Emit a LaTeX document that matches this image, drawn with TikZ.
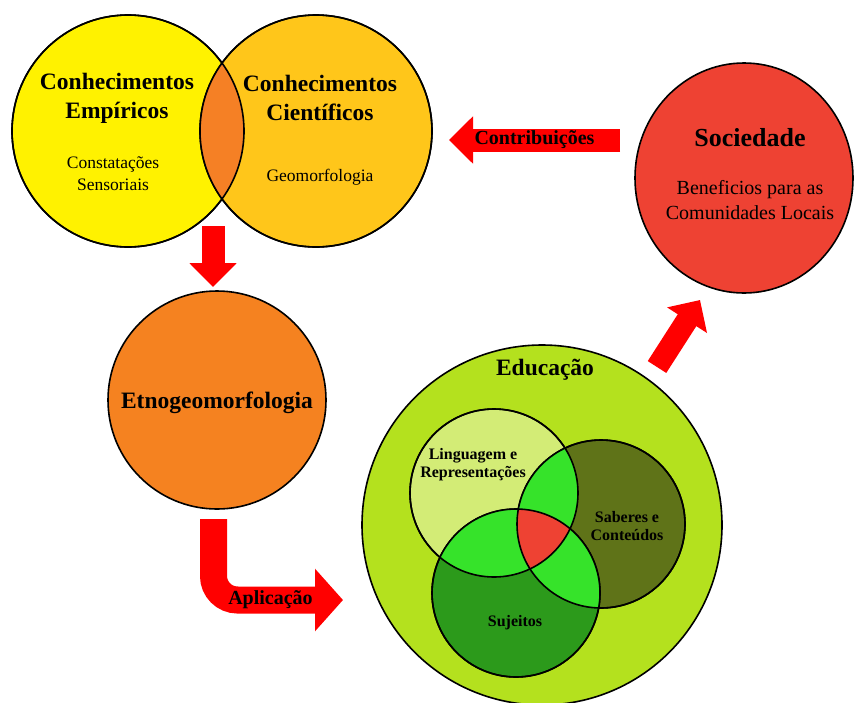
\documentclass[tikz,border=0pt]{standalone}
\usepackage{fontspec}
\setmainfont{Liberation Serif}
\usetikzlibrary{arrows.meta}

\definecolor{empyellow}{HTML}{FFF200}
\definecolor{cieamber}{HTML}{FFC61A}
\definecolor{lensorange}{HTML}{F58025}
\definecolor{etnoorange}{HTML}{F58220}
\definecolor{socred}{HTML}{EE4233}
\definecolor{edugreen}{HTML}{B4E11E}
\definecolor{linglight}{HTML}{D3EC76}
\definecolor{sabolive}{HTML}{5F7318}
\definecolor{sujgreen}{HTML}{2C9A1B}
\definecolor{mixgreen}{HTML}{36E32A}
\definecolor{arrowred}{HTML}{FF0000}

\begin{document}
\begin{tikzpicture}[x=1pt, y=-1pt,
    ring/.style={circle, draw=black, line width=1.6pt, inner sep=0pt},
    outline/.style={draw=black, line width=1.6pt},
    title/.style={font=\bfseries\fontsize{23.5}{29}\selectfont, align=center},
    sub/.style={font=\fontsize{17.5}{22}\selectfont, align=center},
    small/.style={font=\bfseries\fontsize{16}{18}\selectfont, align=center},
    arrowtxt/.style={font=\bfseries\fontsize{20}{24}\selectfont, text=black},
    bigarrow/.style={draw=arrowred, line width=23pt, -{Triangle[length=24pt, width=46pt]}},
    bentarrow/.style={draw=arrowred, line width=27pt, rounded corners=24pt,
      -{Triangle[length=28pt, width=61pt]}},
  ]
  \useasboundingbox[fill=white] (0,0) rectangle (854,702);

  % conhecimentos: two overlapping circles
  \node[ring, fill=empyellow, minimum size=232pt] (emp) at (128,131) {};
  \node[ring, fill=cieamber, minimum size=232pt] (cie) at (316,131) {};
  \begin{scope}
    \clip (emp.center) circle (116pt);
    \fill[lensorange] (cie.center) circle (116pt);
  \end{scope}
  \draw[outline] (emp.center) circle (116pt);
  \draw[outline] (cie.center) circle (116pt);

  \node[title] (empTitle) at (117,98) {Conhecimentos\\Empíricos};
  \node[sub] (empSub) at (113,174) {Constatações\\Sensoriais};
  \node[title] (cieTitle) at (320,98) {Conhecimentos\\Científicos};
  \node[sub] (cieSub) at (320,177) {Geomorfologia};

  % etnogeomorfologia
  \node[ring, fill=etnoorange, minimum size=218pt] (etno) at (217,400) {};
  \node[title] (etnoTxt) at (217,403) {Etnogeomorfologia};

  % sociedade
  \draw[outline, fill=socred] (744,178) ellipse (109pt and 115pt);
  \coordinate (soc) at (744,178);
  \node[font=\bfseries\fontsize{26}{30}\selectfont] (socTitle) at (750,138) {Sociedade};
  \node[font=\fontsize{20}{25}\selectfont, align=center] (socSub) at (750,200)
    {Beneficios para as\\Comunidades Locais};

  % educação with its three sets
  \node[ring, fill=edugreen, minimum size=360pt] (edu) at (542,525) {};
  \node[ring, fill=linglight, minimum size=168pt] (ling) at (494,493) {};
  \node[ring, fill=sabolive, minimum size=168pt] (sab) at (601,524) {};
  \node[ring, fill=sujgreen, minimum size=168pt] (suj) at (516,593) {};
  \begin{scope}
    \clip (ling.center) circle (84pt);
    \fill[mixgreen] (sab.center) circle (84pt);
    \fill[mixgreen] (suj.center) circle (84pt);
  \end{scope}
  \begin{scope}
    \clip (sab.center) circle (84pt);
    \fill[mixgreen] (suj.center) circle (84pt);
  \end{scope}
  \begin{scope}
    \clip (ling.center) circle (84pt);
    \clip (sab.center) circle (84pt);
    \fill[socred] (suj.center) circle (84pt);
  \end{scope}
  \draw[outline] (ling.center) circle (84pt);
  \draw[outline] (sab.center) circle (84pt);
  \draw[outline] (suj.center) circle (84pt);

  \node[title] (eduTxt) at (545,370) {Educação};
  \node[small] (lingTxt) at (473,465) {Linguagem e\\Representações};
  \node[small] (sabTxt) at (627,526) {Saberes e\\Conteúdos};
  \node[small] (sujTxt) at (515,623) {Sujeitos};

  % arrows
  \coordinate (dn-a) at (213,226);
  \coordinate (dn-b) at (213,287);
  \draw[bigarrow] (dn-a) -- (dn-b);

  \coordinate (ap-a) at (213.5,519);
  \coordinate (ap-b) at (343,600);
  \draw[bentarrow] (ap-a) |- node[arrowtxt, pos=0.72] (apTxt) {Aplicação} (ap-b);

  \coordinate (up-a) at (657,367);
  \coordinate (up-b) at (700,300);
  \draw[bigarrow, line width=22pt] (up-a) -- (up-b);

  \coordinate (ct-a) at (620,140);
  \coordinate (ct-b) at (449,140);
  \draw[bigarrow] (ct-a) -- node[arrowtxt] (ctTxt) {Contribuições} (ct-b);
\end{tikzpicture}
\end{document}
